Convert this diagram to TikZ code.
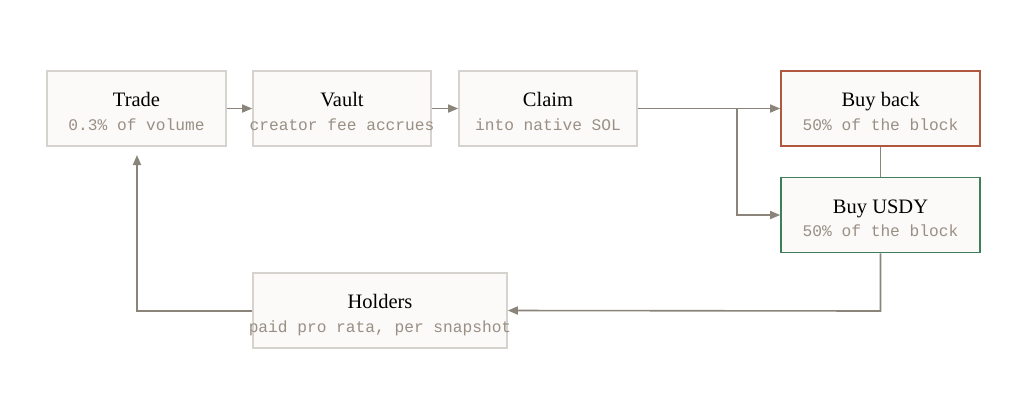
\documentclass[tikz,border=0pt]{standalone}
\usepackage{fontspec}
\setmainfont{Liberation Serif}
\setmonofont{Liberation Mono}
\usetikzlibrary{arrows.meta,calc}
\definecolor{boxfill}{HTML}{FBFAF8}
\definecolor{boxline}{HTML}{D6D3CF}
\definecolor{redline}{HTML}{B0573F}
\definecolor{greenline}{HTML}{3C7F58}
\definecolor{conn}{HTML}{8A847A}
\definecolor{subtxt}{HTML}{9A8F84}
\begin{document}
\begin{tikzpicture}[x=1pt,y=-1pt,
  box/.style={draw=boxline,line width=1.6pt,fill=boxfill,minimum height=75pt,inner sep=0pt},
  title/.style={anchor=base,font=\fontsize{20.5}{24}\selectfont,text=black,inner sep=0pt},
  sub/.style={anchor=base,font=\ttfamily\fontsize{16.2}{18}\selectfont,text=subtxt,inner sep=0pt},
  conn/.style={draw=conn,line width=1.6pt},
  arr/.style={conn,-{Triangle[length=10pt,width=8pt]}}]
\useasboundingbox[fill=white] (0,0) rectangle (1032,408);
\node[box,minimum width=179pt] (trade) at (136.5,108.5) {};
\node[box,minimum width=178pt] (vault) at (342,108.5) {};
\node[box,minimum width=178pt] (claim) at (548,108.5) {};
\node[box,draw=redline,minimum width=199pt] (buyback) at (880.5,108.5) {};
\node[box,draw=greenline,minimum width=199pt] (usdy) at (880.5,215) {};
\node[box,minimum width=254pt] (holders) at (380,310.5) {};
\foreach \n/\t/\s in {trade/Trade/0.3\% of volume,vault/Vault/creator fee accrues,claim/Claim/into native SOL,buyback/Buy back/50\% of the block,usdy/Buy USDY/50\% of the block,holders/Holders/paid pro rata{,} per snapshot}{
  \node[title] (\n-t) at ($(\n.center)+(0,-2)$) {\t};
  \node[sub] (\n-s) at ($(\n.center)+(0,21.5)$) {\s};
}
\coordinate (split) at (737,108.5);
\coordinate (loopA) at (880.5,311);
\coordinate (loopB) at (137,311);
\coordinate (tradein) at (137,155);
\draw[arr] (trade.east) -- (vault.west);
\draw[arr] (vault.east) -- (claim.west);
\draw[arr] (claim.east) -- (buyback.west);
\draw[arr] (split) |- (usdy.west);
\draw[conn] (buyback.south) -- (usdy.north);
\draw[arr] (usdy.south) -- (loopA) -- (holders.east);
\draw[arr] (holders.west |- loopB) -- (loopB) -- (tradein);
\end{tikzpicture}
\end{document}
